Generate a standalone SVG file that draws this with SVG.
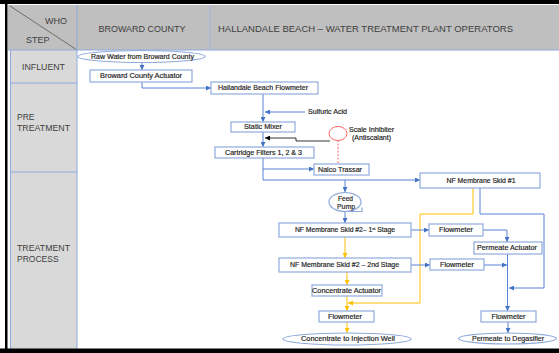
<svg xmlns="http://www.w3.org/2000/svg" width="559" height="353" viewBox="0 0 559 353">
<defs>
<style>
.hdr{font-family:"Liberation Sans",Arial,sans-serif;font-size:9px;fill:#404040}
.lbl{font-family:"Liberation Sans",Arial,sans-serif;font-size:8.5px;fill:#404040}
.t{font-family:"Liberation Sans",Arial,sans-serif;font-size:6.8px;fill:#1f1f1f;stroke:#1f1f1f;stroke-width:0.18;text-anchor:middle}
.box{fill:#fff;stroke:#8FAADC;stroke-width:1.2}
.c{fill:none;stroke:#5B84D6;stroke-width:1}
.y{fill:none;stroke:#FFC000;stroke-width:1}
.k{fill:none;stroke:#000;stroke-width:0.8}
</style>
<marker id="ab" viewBox="0 0 6 6" refX="6" refY="3" markerWidth="5" markerHeight="5" markerUnits="userSpaceOnUse" orient="auto"><path d="M0,0L6,3L0,6z" fill="#4472C4"/></marker>
<marker id="ay" viewBox="0 0 6 6" refX="6" refY="3" markerWidth="5" markerHeight="5" markerUnits="userSpaceOnUse" orient="auto"><path d="M0,0L6,3L0,6z" fill="#FFC000"/></marker>
<marker id="ak" viewBox="0 0 6 6" refX="6" refY="3" markerWidth="5" markerHeight="5" markerUnits="userSpaceOnUse" orient="auto"><path d="M0,0L6,3L0,6z" fill="#000"/></marker>
</defs>
<rect width="559" height="353" fill="#fff"/>
<g id="table">
<rect x="8" y="5" width="551" height="45" fill="#BFBFBF"/>
<rect x="11" y="50" width="66" height="299" fill="#D9D9D9"/>
<line x1="10" y1="6" x2="77" y2="50" stroke="#595959" stroke-width="0.8"/>
<line x1="77" y1="5" x2="77" y2="349" stroke="#8FAADC" stroke-width="1"/>
<line x1="210" y1="5" x2="210" y2="50" stroke="#A6B8D8" stroke-width="1"/>
<line x1="8" y1="50" x2="559" y2="50" stroke="#8FAADC" stroke-width="1"/>
<line x1="10.5" y1="50" x2="10.5" y2="349" stroke="#8FAADC" stroke-width="1"/>
<line x1="10" y1="83" x2="77" y2="83" stroke="#8FAADC" stroke-width="1"/>
<line x1="10" y1="172" x2="77" y2="172" stroke="#8FAADC" stroke-width="1"/>
<text class="hdr" x="45" y="24" font-size="9.5">WHO</text>
<text class="hdr" x="26" y="43">STEP</text>
<text class="hdr" x="142" y="32" text-anchor="middle" textLength="87" lengthAdjust="spacingAndGlyphs">BROWARD COUNTY</text>
<text class="hdr" x="218" y="32" textLength="295" lengthAdjust="spacingAndGlyphs">HALLANDALE BEACH – WATER TREATMENT PLANT OPERATORS</text>
<text class="lbl" x="22" y="70" textLength="43" lengthAdjust="spacingAndGlyphs">INFLUENT</text>
<text class="lbl" x="17" y="120">PRE</text>
<text class="lbl" x="17" y="131" textLength="53" lengthAdjust="spacingAndGlyphs">TREATMENT</text>
<text class="lbl" x="17" y="251" textLength="53" lengthAdjust="spacingAndGlyphs">TREATMENT</text>
<text class="lbl" x="17" y="262">PROCESS</text>
<rect x="0" y="0" width="559" height="4" fill="#000"/>
<rect x="5" y="0" width="2.5" height="353" fill="#000"/>
<rect x="0" y="348.5" width="559" height="4.5" fill="#000"/>
</g>
<g id="connectors">
<path class="c" d="M142,62.5V70" marker-end="url(#ab)"/>
<path class="c" d="M142,82V88H211" marker-end="url(#ab)"/>
<path class="c" d="M263,94V122" marker-end="url(#ab)"/>
<path class="c" d="M305,112H265" marker-end="url(#ab)"/>
<path class="k" d="M330,141H296V138H265" marker-end="url(#ak)"/>
<path d="M338,140V164" fill="none" stroke="#FF6666" stroke-width="1" stroke-dasharray="2,1.5"/>
<path class="c" d="M263,132V147" marker-end="url(#ab)"/>
<path class="c" d="M263,158V169H314" marker-end="url(#ab)"/>
<path class="c" d="M263,169V180H420" marker-end="url(#ab)"/>
<path class="c" d="M345,180V192" marker-end="url(#ab)"/>
<path class="c" d="M345,212V223" marker-end="url(#ab)"/>
<path class="y" d="M345,237V258" marker-end="url(#ay)"/>
<path class="y" d="M347,272V285" marker-end="url(#ay)"/>
<path class="y" d="M347,296V311" marker-end="url(#ay)"/>
<path class="y" d="M473,188V214H420V303H348" marker-end="url(#ay)"/>
<path class="y" d="M347,322V333" marker-end="url(#ay)"/>
<path class="c" d="M411,230H429" marker-end="url(#ab)"/>
<path class="c" d="M411,265H430" marker-end="url(#ab)"/>
<path class="c" d="M483,230H507V242" marker-end="url(#ab)"/>
<path class="c" d="M484,265H507" marker-end="url(#ab)"/>
<path class="c" d="M507.5,254V311" marker-end="url(#ab)"/>
<path class="c" d="M480,188V214H544V288H509" marker-end="url(#ab)"/>
<path class="c" d="M508,322V333" marker-end="url(#ab)"/>
</g>
<g id="raw-water"><ellipse class="box" cx="141.5" cy="56.5" rx="63.5" ry="6"/><text class="t" x="142.5" y="58.8" textLength="103" lengthAdjust="spacingAndGlyphs">Raw Water from Broward County</text></g>
<g id="broward-actuator"><rect class="box" x="90" y="70" width="102" height="12"/><text class="t" x="141" y="78.4" textLength="82" lengthAdjust="spacingAndGlyphs">Broward County Actuator</text></g>
<g id="hb-flowmeter"><rect class="box" x="211" y="82" width="107" height="12"/><text class="t" x="263" y="90.4" textLength="90" lengthAdjust="spacingAndGlyphs">Hallandale Beach Flowmeter</text></g>
<g id="sulfuric-acid"><text class="t" x="308" y="114.3" style="text-anchor:start" textLength="39" lengthAdjust="spacingAndGlyphs">Sulfuric Acid</text></g>
<g id="static-mixer"><rect class="box" x="231" y="122" width="64" height="10"/><text class="t" x="263" y="129.4" textLength="38" lengthAdjust="spacingAndGlyphs">Static Mixer</text></g>
<g id="scale-inhibiter"><ellipse cx="338" cy="133.5" rx="9" ry="7" fill="#fff" stroke="#FF6666" stroke-width="1"/><text class="t" x="371.5" y="132" textLength="45" lengthAdjust="spacingAndGlyphs">Scale Inhibiter</text><text class="t" x="371.5" y="140" textLength="39" lengthAdjust="spacingAndGlyphs">(Antiscalant)</text></g>
<g id="cartridge-filters"><rect class="box" x="215" y="147" width="99" height="11"/><text class="t" x="263.5" y="155" textLength="77" lengthAdjust="spacingAndGlyphs">Cartridge Filters 1, 2 &amp; 3</text></g>
<g id="nalco-trassar"><rect class="box" x="314" y="164" width="55" height="11"/><text class="t" x="340" y="172" textLength="44" lengthAdjust="spacingAndGlyphs">Nalco Trassar</text></g>
<g id="nf-skid-1"><rect class="box" x="420" y="173" width="120" height="15"/><text class="t" x="481" y="183" textLength="69" lengthAdjust="spacingAndGlyphs">NF Membrane Skid #1</text></g>
<g id="feed-pump"><ellipse class="box" cx="345" cy="202" rx="16" ry="9.5"/><path d="M345,211.5H362V207.5" fill="none" stroke="#8FAADC" stroke-width="1.2"/><text class="t" x="345.5" y="201" textLength="15" lengthAdjust="spacingAndGlyphs">Feed</text><text class="t" x="346" y="209" textLength="18" lengthAdjust="spacingAndGlyphs">Pump</text></g>
<g id="nf-skid-2-stage-1"><rect class="box" x="279" y="223" width="132" height="14"/><text class="t" x="345" y="232.4">NF Membrane Skid #2– 1<tspan font-size="4" dy="-2">st</tspan><tspan dy="2"> Stage</tspan></text></g>
<g id="nf-skid-2-stage-2"><rect class="box" x="279" y="258" width="132" height="14"/><text class="t" x="344.5" y="267.4" textLength="109" lengthAdjust="spacingAndGlyphs">NF Membrane Skid #2 – 2nd Stage</text></g>
<g id="concentrate-actuator"><rect class="box" x="312" y="285" width="70" height="11"/><text class="t" x="346.5" y="293" textLength="69" lengthAdjust="spacingAndGlyphs">Concentrate Actuator</text></g>
<g id="flowmeter-concentrate"><rect class="box" x="319" y="311" width="55" height="11"/><text class="t" x="345" y="319" textLength="34" lengthAdjust="spacingAndGlyphs">Flowmeter</text></g>
<g id="injection-well"><ellipse class="box" cx="347" cy="339" rx="64" ry="6"/><text class="t" x="348" y="341.3" textLength="94" lengthAdjust="spacingAndGlyphs">Concentrate to Injection Well</text></g>
<g id="flowmeter-1"><rect class="box" x="429" y="224" width="54" height="12"/><text class="t" x="456" y="232.4" textLength="34" lengthAdjust="spacingAndGlyphs">Flowmeter</text></g>
<g id="flowmeter-2"><rect class="box" x="430" y="259" width="54" height="11"/><text class="t" x="457" y="267" textLength="34" lengthAdjust="spacingAndGlyphs">Flowmeter</text></g>
<g id="permeate-actuator"><rect class="box" x="474" y="242" width="68" height="12"/><text class="t" x="507" y="250.4" textLength="60" lengthAdjust="spacingAndGlyphs">Permeate Actuator</text></g>
<g id="flowmeter-permeate"><rect class="box" x="481" y="311" width="55" height="11"/><text class="t" x="508.5" y="319" textLength="34" lengthAdjust="spacingAndGlyphs">Flowmeter</text></g>
<g id="degasifier"><ellipse class="box" cx="507.5" cy="338.5" rx="49" ry="5.5"/><text class="t" x="508" y="340.8" textLength="72" lengthAdjust="spacingAndGlyphs">Permeate to Degasifier</text></g>
</svg>
